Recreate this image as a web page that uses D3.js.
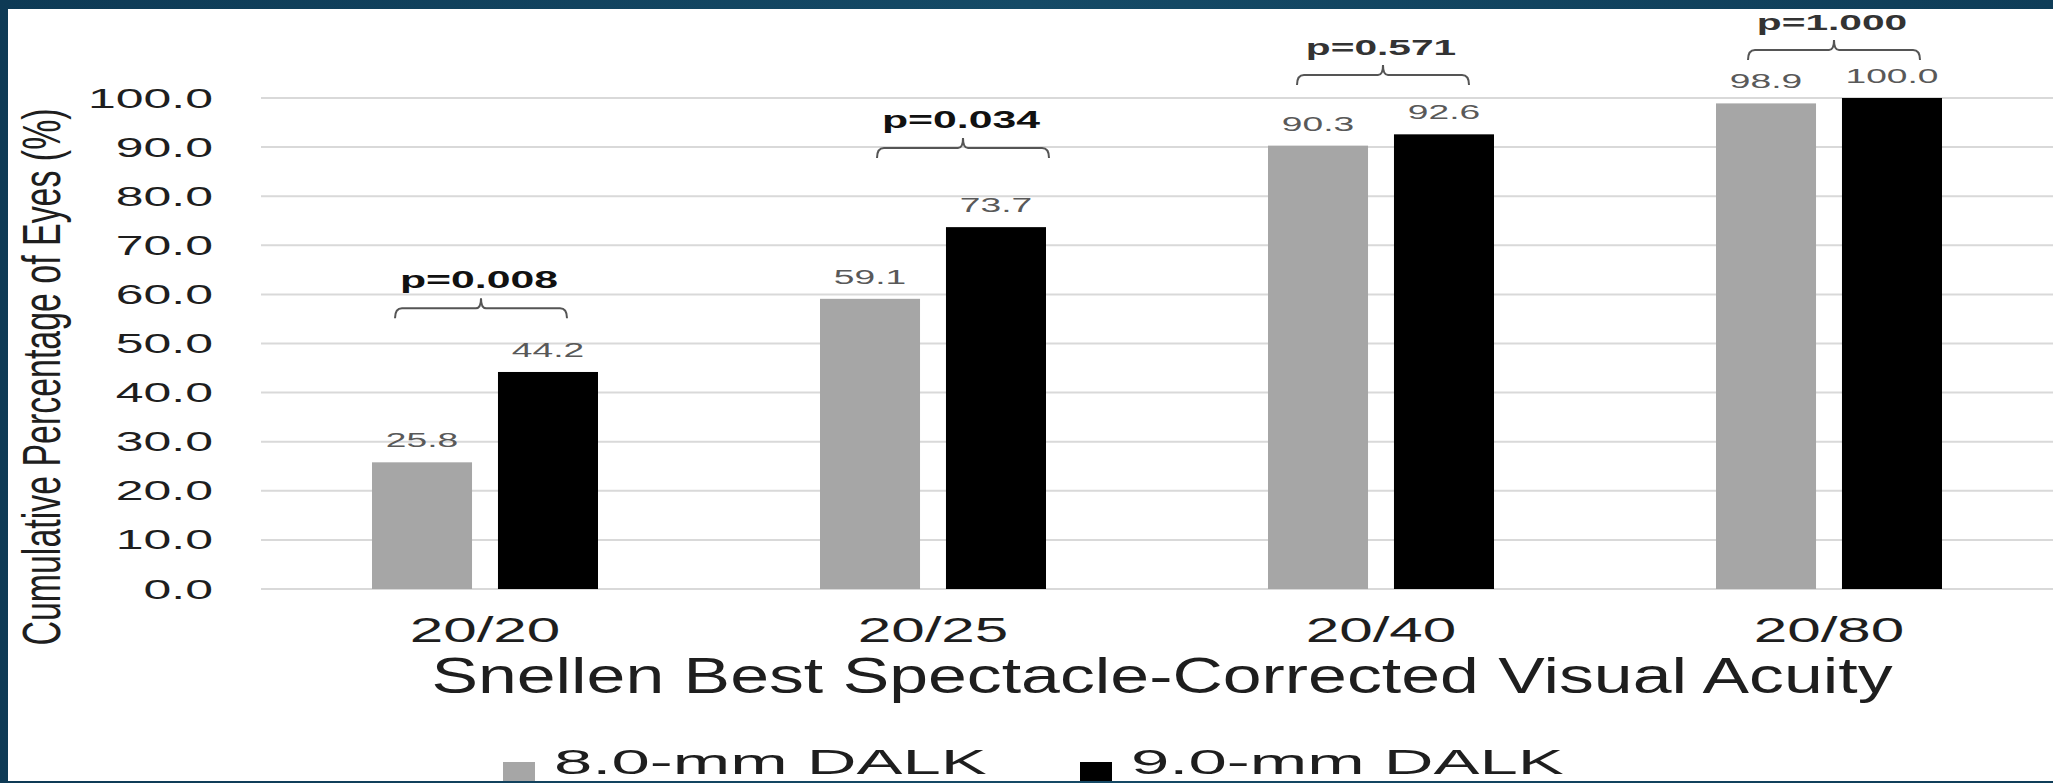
<!DOCTYPE html>
<html>
<head>
<meta charset="utf-8">
<script src="https://cdn.jsdelivr.net/npm/d3@7"></script>
<style>
  html, body { margin: 0; padding: 0; background: #ffffff; }
  svg { display: block; }
  text { font-family: "Liberation Sans", Arial, sans-serif; }
</style>
</head>
<body>
<svg id="chart" width="2053" height="783"></svg>
<script>
// ---------------- data ----------------
const categories = ["20/20", "20/25", "20/40", "20/80"];
const seriesNames = ["8.0-mm DALK", "9.0-mm DALK"];
const values8mm = [25.8, 59.1, 90.3, 98.9];
const values9mm = [44.2, 73.7, 92.6, 100.0];
const pLabels = ["p=0.008", "p=0.034", "p=0.571", "p=1.000"];
const bracketLevels = [57.2, 89.8, 104.7, 109.8];   // annotation heights, in % units
const yTickValues = [0, 10, 20, 30, 40, 50, 60, 70, 80, 90, 100];
const yTitle = "Cumulative Percentage of Eyes (%)";
const xTitle = "Snellen Best Spectacle-Corrected Visual Acuity";

// ---------------- layout / style ----------------
const W = 2053, H = 783;
const plot = { left: 261, right: 2053, top: 98, bottom: 589 };
const colors = { "8.0-mm DALK": "#a6a6a6", "9.0-mm DALK": "#000000" };
const FONT = '"Liberation Sans", Arial, sans-serif';

const svg = d3.select("#chart");

// frame
const defs = svg.append("defs");
const grad = defs.append("linearGradient").attr("id", "frameGrad")
  .attr("x1", "0").attr("x2", "1").attr("y1", "0").attr("y2", "0");
grad.append("stop").attr("offset", "0%").attr("stop-color", "#0e3a55");
grad.append("stop").attr("offset", "50%").attr("stop-color", "#154a66");
grad.append("stop").attr("offset", "100%").attr("stop-color", "#0f3d58");
svg.append("rect").attr("x", 0).attr("y", 0).attr("width", W).attr("height", H).attr("fill", "url(#frameGrad)");
svg.append("rect").attr("x", 8).attr("y", 9).attr("width", W - 8).attr("height", H - 9 - 2).attr("fill", "#ffffff");

// scales
const y = d3.scaleLinear().domain([0, 100]).range([plot.bottom, plot.top]);
const x0 = d3.scaleBand().domain(categories).range([plot.left, plot.right]).paddingInner(0).paddingOuter(0);
const groupWidth = 226;
const x1 = d3.scaleBand().domain(seriesNames).range([0, groupWidth]).paddingInner(0.206);
const groupStart = c => x0(c) + (x0.bandwidth() - groupWidth) / 2;
const groupCenter = c => x0(c) + x0.bandwidth() / 2;

// helper for horizontally stretched text
function sText(parent, x, yy, str, size, sx, anchor, weight, fill) {
  return parent.append("text")
    .attr("transform", `translate(${x},${yy}) scale(${sx},1)`)
    .attr("text-anchor", anchor)
    .attr("font-size", size)
    .attr("font-weight", weight || "normal")
    .attr("fill", fill || "#222")
    .text(str);
}

// gridlines
svg.append("g").selectAll("line").data(yTickValues).join("line")
  .attr("x1", plot.left).attr("x2", plot.right)
  .attr("y1", d => y(d)).attr("y2", d => y(d))
  .attr("stroke", "#d9d9d9").attr("stroke-width", 2);

// y axis (labels only)
const yAxis = svg.append("g").attr("transform", `translate(${plot.left},0)`)
  .call(d3.axisLeft(y).tickValues(yTickValues).tickFormat(d3.format(".1f")).tickSize(0));
yAxis.select(".domain").remove();
yAxis.selectAll(".tick text")
  .attr("x", null).attr("dy", null)
  .attr("dominant-baseline", "central")
  .attr("transform", "translate(-48,0) scale(1.85,1)")
  .attr("font-family", FONT).attr("font-size", 27).attr("fill", "#1e1e1e");

// x axis (labels only)
const xAxis = svg.append("g").attr("transform", `translate(0,${plot.bottom})`)
  .call(d3.axisBottom(x0).tickSize(0));
xAxis.select(".domain").remove();
xAxis.selectAll(".tick text")
  .attr("y", null).attr("dy", null)
  .attr("transform", "translate(0,53) scale(1.72,1)")
  .attr("font-family", FONT).attr("font-size", 35).attr("fill", "#1e1e1e");

// bars
const rows = categories.map((c, i) => ({ cat: c, vals: [
  { s: seriesNames[0], v: values8mm[i] },
  { s: seriesNames[1], v: values9mm[i] }
]}));
const groups = svg.append("g").selectAll("g").data(rows).join("g")
  .attr("transform", d => `translate(${groupStart(d.cat)},0)`);
groups.selectAll("rect").data(d => d.vals).join("rect")
  .attr("x", d => x1(d.s)).attr("width", x1.bandwidth())
  .attr("y", d => y(d.v)).attr("height", d => y(0) - y(d.v))
  .attr("fill", d => colors[d.s]);
groups.each(function(d) {
  const g = d3.select(this);
  d.vals.forEach(b => {
    sText(g, x1(b.s) + x1.bandwidth() / 2, y(b.v) - 15, b.v.toFixed(1), 21, 1.77, "middle", "normal", "#595959");
  });
});

// p-value brackets
const bracketShift = [-4, 30, 2, 5];
const bracketHalf = 86;
const ann = svg.append("g");
categories.forEach((c, i) => {
  const cx = groupCenter(c) + bracketShift[i];
  const by = y(bracketLevels[i]);
  const xa = cx - bracketHalf, xb = cx + bracketHalf;
  const p = `M${xa},${by + 10} Q${xa},${by} ${xa + 7},${by} L${cx - 5},${by} Q${cx},${by} ${cx},${by - 10} Q${cx},${by} ${cx + 5},${by} L${xb - 7},${by} Q${xb},${by} ${xb},${by + 10}`;
  ann.append("path").attr("d", p).attr("fill", "none").attr("stroke", "#555").attr("stroke-width", 2);
  const big = i < 2;
  sText(ann, cx - 2, by - 20, pLabels[i], big ? 23 : 22, big ? 1.86 : 1.85, "middle", "bold", big ? "#111" : "#333");
});

// axis titles
sText(svg, 1162, 693, xTitle, 50, 1.396, "middle", "normal", "#1e1e1e");
svg.append("text")
  .attr("transform", "translate(60,377) rotate(-90) scale(0.64,1)")
  .attr("text-anchor", "middle").attr("font-size", 53).attr("fill", "#1e1e1e")
  .text(yTitle);

// legend
const legend = svg.append("g");
const legendX = [503, 1080];
seriesNames.forEach((s, i) => {
  legend.append("rect").attr("x", legendX[i]).attr("y", 762).attr("width", 32).attr("height", 19).attr("fill", colors[s]);
  sText(legend, legendX[i] + 51, 774, s, 35, 1.97, "start", "normal", "#1e1e1e");
});
</script>
</body>
</html>
